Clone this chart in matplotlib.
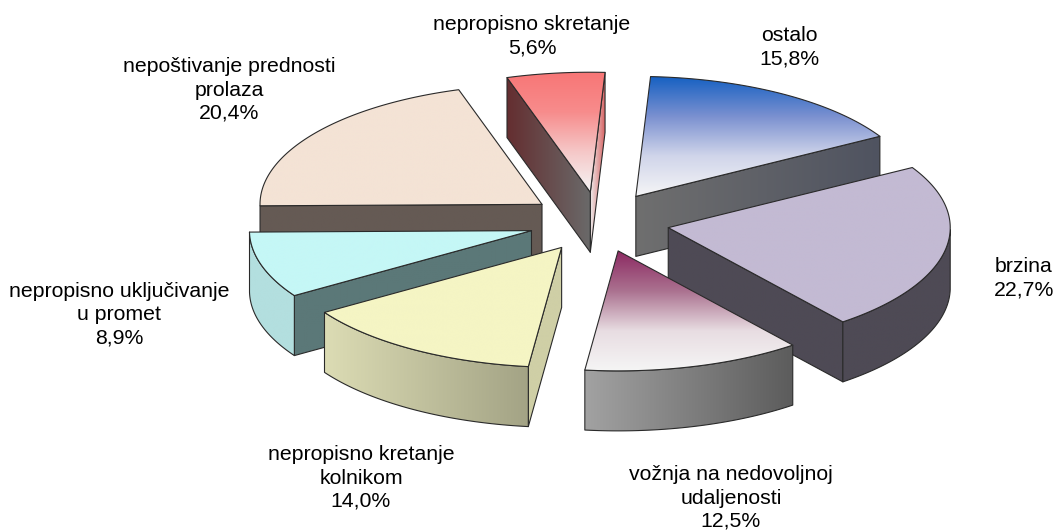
import numpy as np
import matplotlib
matplotlib.use('Agg')
import matplotlib.pyplot as plt
from matplotlib.colors import LinearSegmentedColormap
from matplotlib.patches import Polygon

plt.rcParams['font.family'] = ['Liberation Sans', 'DejaVu Sans']

# data, clockwise from the top
labels = ['ostalo', 'brzina', 'vožnja na nedovoljnoj\nudaljenosti',
          'nepropisno kretanje\nkolnikom', 'nepropisno uključivanje\nu promet',
          'nepoštivanje prednosti\nprolaza', 'nepropisno skretanje']
values = [15.8, 22.7, 12.5, 14.0, 8.9, 20.4, 5.6]

# label centres in pixels
label_x = [789, 1024, 731, 361, 119, 229, 532]
label_y = [47, 278, 498, 478, 315, 90, 36]

# top face gradient top to bottom
top_colors = [['#1560c2', '#7a90d0', '#d0d5ea', '#f5f5f6'],
              ['#c3bad3', '#c3bad3'],
              ['#8c2a62', '#ab7290', '#e8dde2', '#f5f5f5'],
              ['#f5f5c4', '#f5f5c4'],
              ['#c5f7f6', '#c5f7f6'],
              ['#f4e3d5', '#f4e3d5'],
              ['#f87676', '#f78c8c', '#f5c8c8', '#f5f5f5']]
# wall gradients left to right: outer wall, radial wall at start, radial wall at end
outer_colors = [['#6f6f6f', '#4f5360'], ['#4e4a55', '#4e4a55'], ['#a2a2a2', '#5c5c5c'],
                ['#dcdcb4', '#a3a385'], ['#b3dfdf', '#b3dfdf'], ['#655a54', '#655a54'],
                ['#777777', '#777777']]
start_colors = [['#6f6f6f', '#6f6f6f'], ['#4e4a55', '#4e4a55'], ['#777777', '#777777'],
                ['#cfcfa6', '#cfcfa6'], ['#5b7878', '#5b7878'], ['#655a54', '#655a54'],
                ['#642e30', '#6a6a6a']]
end_colors = [['#6f6f6f', '#4f5360'], ['#4e4a55', '#4e4a55'], ['#777777', '#777777'],
              ['#cfcfa6', '#cfcfa6'], ['#5b7878', '#5b7878'], ['#655a54', '#655a54'],
              ['#eeeeee', '#d86464']]

# pie geometry in pixels
cx, cy = 599, 222
rx, ry = 282, 120
depth = 60
explode = 0.25
start_angle = 3


def gradient(ax, pts, colors, z, vertical=False):
    cmap = LinearSegmentedColormap.from_list('g', colors)
    x0, y0 = pts.min(axis=0)
    x1, y1 = pts.max(axis=0)
    grad = np.linspace(0, 1, 256)
    grad = grad.reshape(-1, 1) if vertical else grad.reshape(1, -1)
    im = ax.imshow(grad, cmap=cmap, extent=[x0, x1, y1, y0], origin='upper',
                   aspect='auto', zorder=z, interpolation='bilinear')
    clip = Polygon(pts, closed=True, transform=ax.transData, fc='none', ec='none')
    ax.add_patch(clip)
    im.set_clip_path(clip)
    ax.add_patch(Polygon(pts, closed=True, fc='none', ec='#2a2a2a', lw=0.8,
                         joinstyle='round', zorder=z + 0.5))


def on_rim(tip, deg):
    a = np.radians(deg)
    return np.column_stack([tip[0] + rx * np.sin(a), tip[1] - ry * np.cos(a)])


def extrude(edge):
    low = edge[::-1] + np.array([0, depth])
    return np.vstack([edge, low])


def faces_up(tip, p, mid):
    # the side under an edge shows when the slice lies above that edge
    dx = p[0] - tip[0]
    if abs(dx) < 1e-6:
        return False
    return mid[1] < tip[1] + (p[1] - tip[1]) * (mid[0] - tip[0]) / dx


fig = plt.figure(figsize=(10.55, 5.31), dpi=100)
ax = fig.add_axes([0, 0, 1, 1])

total = sum(values)
sweeps = [v / total * 360 for v in values]
starts = start_angle + np.concatenate([[0], np.cumsum(sweeps)[:-1]])
mids = starts + np.array(sweeps) / 2

order = np.argsort(-np.cos(np.radians(mids)))
for n, i in enumerate(order):
    z = 2 + n * 10
    m = np.radians(mids[i])
    tip = np.array([cx + explode * rx * np.sin(m), cy - explode * ry * np.cos(m)])
    angles = np.linspace(starts[i], starts[i] + sweeps[i], 80)
    arc = on_rim(tip, angles)
    mid_pt = on_rim(tip, [mids[i]])[0] * 0.6 + tip * 0.4

    if faces_up(tip, arc[-1], mid_pt):
        gradient(ax, extrude(np.vstack([tip, arc[-1]])), end_colors[i], z)
    if faces_up(tip, arc[0], mid_pt):
        gradient(ax, extrude(np.vstack([tip, arc[0]])), start_colors[i], z + 1)

    front = angles[(np.cos(np.radians(angles)) < 0)]
    if len(front) > 1:
        gradient(ax, extrude(on_rim(tip, front)), outer_colors[i], z + 2)

    gradient(ax, np.vstack([tip, arc]), top_colors[i], z + 3, vertical=True)

    text = '%s\n%s%%' % (labels[i], ('%.1f' % values[i]).replace('.', ','))
    ax.text(label_x[i], label_y[i], text, ha='center', va='center', fontsize=15.3,
            color='black', linespacing=1.27, zorder=200)

ax.set_xlim(0, 1055)
ax.set_ylim(531, 0)
ax.axis('off')
fig.savefig('out.png', dpi=100, facecolor='white')
